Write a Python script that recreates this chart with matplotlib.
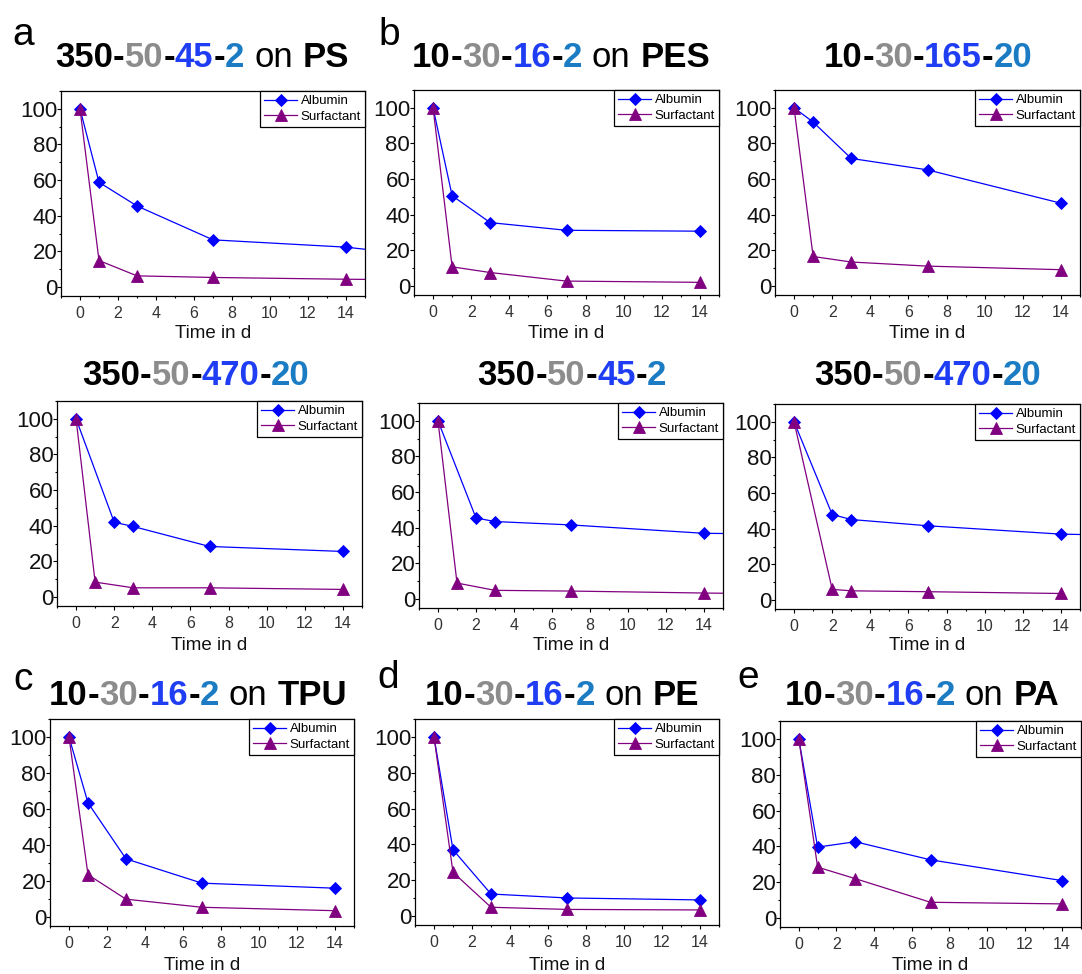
import matplotlib
matplotlib.use("Agg")
import matplotlib.pyplot as plt
from matplotlib.ticker import MultipleLocator

plt.rcParams['font.family'] = ['Liberation Sans', 'DejaVu Sans']

# ---------------- data ----------------
days = [0, 1, 3, 7, 14]
days_b = [0, 2, 3, 7, 14]
days_ext = [0, 1, 3, 7, 14, 21]
days_b_ext = [0, 2, 3, 7, 14, 21]

ps_alb = [100, 58.8, 45.5, 26.5, 22.4, 14.1]
ps_surf = [100, 14.9, 6.3, 5.4, 4.4, 3.8]

pes_alb = [100, 50.7, 35.6, 31.3, 30.8]
pes_surf = [100, 10.8, 7.6, 2.8, 2.1]

s165_alb = [100, 92.0, 71.6, 65.2, 46.5]
s165_surf = [100, 16.6, 13.5, 11.2, 9.2]

s470a_alb = [100, 42.0, 39.6, 28.4, 25.6]
s470a_surf = [100, 8.4, 5.2, 5.2, 4.3]

s45_alb = [100, 45.5, 43.5, 41.6, 36.9, 36.2]
s45_surf = [100, 9.0, 4.9, 4.5, 3.4, 2.5]

s470b_alb = [100, 48.0, 45.2, 41.7, 37.0, 35.6]
s470b_surf = [100, 6.0, 5.2, 4.7, 3.7]

tpu_alb = [100, 63.4, 32.3, 18.8, 16.0]
tpu_surf = [100, 23.5, 9.9, 5.4, 3.5]

pe_alb = [100, 37.0, 12.3, 10.1, 9.0]
pe_surf = [100, 24.4, 4.9, 3.7, 3.4]

pa_alb = [100, 39.6, 42.6, 32.5, 20.9]
pa_surf = [100, 28.4, 22.0, 8.8, 7.9]

series_labels = ["Albumin", "Surfactant"]
xticks = [0, 2, 4, 6, 8, 10, 12, 14]
yticks = [0, 20, 40, 60, 80, 100]
xlabel = "Time in d"

# title parts: (sample code parts, substrate)
titles = [
    (["350", "50", "45", "2"], "PS"),
    (["10", "30", "16", "2"], "PES"),
    (["10", "30", "165", "20"], None),
    (["350", "50", "470", "20"], None),
    (["350", "50", "45", "2"], None),
    (["350", "50", "470", "20"], None),
    (["10", "30", "16", "2"], "TPU"),
    (["10", "30", "16", "2"], "PE"),
    (["10", "30", "16", "2"], "PA"),
]
panel_letters = ["a", "b", None, None, None, None, "c", "d", "e"]

panel_data = [
    (days_ext, ps_alb, days_ext, ps_surf),
    (days, pes_alb, days, pes_surf),
    (days, s165_alb, days, s165_surf),
    (days_b, s470a_alb, days, s470a_surf),
    (days_b_ext, s45_alb, days_ext, s45_surf),
    (days_b_ext, s470b_alb, days_b, s470b_surf),
    (days, tpu_alb, days, tpu_surf),
    (days, pe_alb, days, pe_surf),
    (days, pa_alb, days, pa_surf),
]

# ---------------- layout (pixels) ----------------
W, H = 1082, 974
DPI = 100
# left, top, right, bottom
boxes = [
    (61, 91, 365, 296), (414, 90, 719, 295), (775, 90, 1080, 295),
    (57, 401, 362, 606), (419, 403, 723, 608), (775, 404, 1080, 609),
    (50, 719, 354, 926), (415, 719, 719, 925), (780, 721, 1081, 927),
]
title_pos = [(202, 67), (561, 67), (928, 67),
             (196, 385), (572, 385), (928, 385),
             (198, 705), (562, 705), (922, 705)]
letter_pos = [(12, 45), (378, 45), None, None, None, None,
              (13, 690), (377, 688), (737, 688)]
label_base = [338, 338, 338, 650, 650, 650, 970, 970, 970]

C_BLACK = "#000000"
C_GRAY = "#8c8c8c"
C_BLUE = "#1f3df2"
C_TEAL = "#1b7cc4"
ALB = "#0000ff"
SURF = "#800080"

fig = plt.figure(figsize=(W / DPI, H / DPI), dpi=DPI)
fig.patch.set_facecolor("white")


def fx(px):
    return px / W


def fy(py):
    return 1 - py / H


def draw_title(parts, substrate, cx, base, size=25):
    colors = [C_BLACK, C_GRAY, C_BLUE, C_TEAL]
    pieces = []
    for i, p in enumerate(parts):
        if i > 0:
            pieces.append(("-", C_BLACK, "bold", 0))
        pieces.append((p, colors[i], "bold", 0))
    em = size * DPI / 72
    if substrate:
        pieces.append(("on", C_BLACK, "normal", 0.278 * em))
        pieces.append((substrate, C_BLACK, "bold", 0.278 * em))
    texts = []
    for s, c, w, g in pieces:
        t = fig.text(0, fy(base), s, color=c, fontweight=w, fontsize=size,
                     va="baseline", ha="left")
        texts.append((t, g))
    r = fig.canvas.get_renderer()
    widths = [t.get_window_extent(r).width for t, _ in texts]
    total = sum(widths) + sum(g for _, g in texts)
    x = cx - total / 2
    for (t, g), w in zip(texts, widths):
        x += g
        t.set_x(fx(x))
        x += w


for i, (l, t, r_, b) in enumerate(boxes):
    ax = fig.add_axes([fx(l), fy(b), (r_ - l) / W, (b - t) / H])
    xa, ya, xs, ys = panel_data[i]
    ax.plot(xa, ya, color=ALB, lw=0.9, marker="D", ms=6.0, mec=ALB, mew=0.6,
            label=series_labels[0], zorder=3)
    ax.plot(xs, ys, color=SURF, lw=0.9, marker="^", ms=8.0, mec=SURF, mew=0.6,
            label=series_labels[1], zorder=4)
    ax.set_xlim(-1, 15)
    ax.set_ylim(-5, 110)
    ax.set_xticks(xticks)
    ax.set_yticks(yticks)
    ax.xaxis.set_minor_locator(MultipleLocator(1))
    ax.yaxis.set_minor_locator(MultipleLocator(10))
    ax.tick_params(which="both", direction="out", top=False, right=False, width=0.8)
    ax.tick_params(which="major", length=3)
    ax.tick_params(which="minor", length=1.6)
    ax.tick_params(axis="y", which="major", labelsize=16, pad=-0.3, labelcolor="#111111")
    ax.tick_params(axis="x", which="major", labelsize=11.5, pad=4, labelcolor="#333333")
    for sp in ax.spines.values():
        sp.set_linewidth(0.9)
        sp.set_color("black")
    ax.set_xlabel(xlabel, fontsize=13.5, color="#111111", va="baseline")
    ax.xaxis.set_label_coords(0.5, (b - label_base[i]) / (b - t))
    leg = ax.legend(loc="upper right", fontsize=9.5, frameon=True, fancybox=False,
                    edgecolor="black", framealpha=1, borderaxespad=0.0,
                    handlelength=2.5, handletextpad=0.25, borderpad=0.3,
                    labelspacing=0.25)
    leg.get_frame().set_linewidth(0.9)
    parts, sub = titles[i]
    draw_title(parts, sub, title_pos[i][0], title_pos[i][1])
    if panel_letters[i]:
        lx, ly = letter_pos[i]
        fig.text(fx(lx), fy(ly), panel_letters[i], fontsize=28, va="baseline",
                 ha="left", color="black")

fig.savefig("out.png", dpi=DPI, facecolor="white")
